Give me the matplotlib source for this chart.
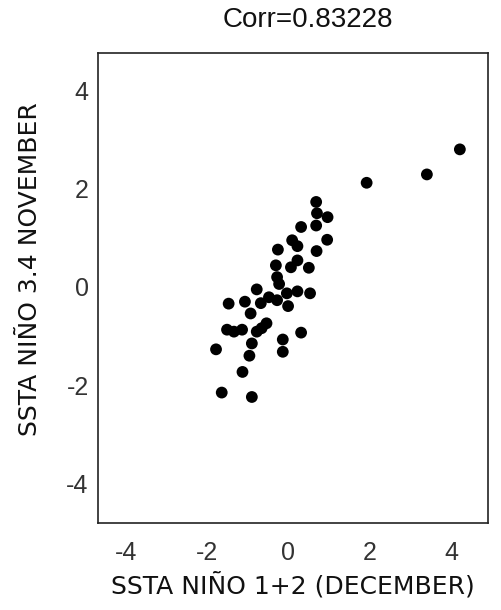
#!/usr/bin/env python

"""Scatter of Nino 1+2 December SSTA vs Nino 3.4 November SSTA"""

import matplotlib
matplotlib.use('Agg')
import matplotlib.pyplot as plt

# SSTA values
nino12_dec = [0.68, 0.70, 0.96, 0.68, 0.31, 0.95, 0.09, 0.22, -0.26, 0.69,
              0.22, 0.06, 0.50, -0.31, -0.28, -0.23, 0.22, 0.53, -0.78, -0.04,
              -0.48, -0.28, -1.47, -1.07, -0.68, -0.01, -0.93, -1.51, -1.34, -1.14,
              -0.78, -0.54, -0.66, 0.31, -0.14, -0.90, -1.78, -0.14, -0.96, -1.13,
              -1.64, -0.90, 1.92, 3.40, 4.21]
nino34_nov = [1.73, 1.50, 1.42, 1.25, 1.22, 0.96, 0.95, 0.83, 0.76, 0.73,
              0.54, 0.40, 0.39, 0.44, 0.20, 0.06, -0.09, -0.13, -0.05, -0.13,
              -0.21, -0.27, -0.34, -0.30, -0.33, -0.39, -0.54, -0.87, -0.91, -0.87,
              -0.91, -0.74, -0.84, -0.93, -1.07, -1.15, -1.27, -1.32, -1.40, -1.73,
              -2.15, -2.24, 2.12, 2.29, 2.80]
ticks = [-4, -2, 0, 2, 4]
corr = 0.83228

plt.rcParams['font.family'] = ['Liberation Sans', 'DejaVu Sans']

W, H = 502, 610
fig = plt.figure(figsize = (W / 100, H / 100), dpi = 100)
ax = fig.add_axes([0.196, 0.143, 0.776, 0.770])

ax.scatter(nino12_dec, nino34_nov, s = 72, color = 'black', edgecolors = 'none', zorder = 3)

ax.set_xlim(-4.67, 4.90)
ax.set_ylim(-4.80, 4.76)
ax.set_xticks(ticks)
ax.set_yticks(ticks)
ax.set_xticklabels([str(t) for t in ticks])
ax.set_yticklabels([str(t) for t in ticks])
ax.tick_params(axis = 'x', length = 0, pad = 13, labelsize = 18, labelcolor = '#333333')
ax.tick_params(axis = 'y', length = 0, pad = 7, labelsize = 18, labelcolor = '#333333')
for s in ax.spines.values():
    s.set_linewidth(1.2)
    s.set_color('#222222')

# title and axis labels placed in pixel positions of the original
fig.text(308 / W, 1 - 20 / H, 'Corr=%.5f' % corr, fontsize = 20,
         ha = 'center', va = 'center', color = '#111111')
fig.text(293 / W, 1 - 585 / H, 'SSTA NIÑO 1+2 (DECEMBER)', fontsize = 18,
         family = 'DejaVu Sans', ha = 'center', va = 'center', color = '#111111')
fig.text(30 / W, 1 - 269 / H, 'SSTA NIÑO 3.4 NOVEMBER', fontsize = 18,
         family = 'DejaVu Sans', rotation = 90, ha = 'center', va = 'center', color = '#111111')

fig.savefig('out.png', dpi = 100)
